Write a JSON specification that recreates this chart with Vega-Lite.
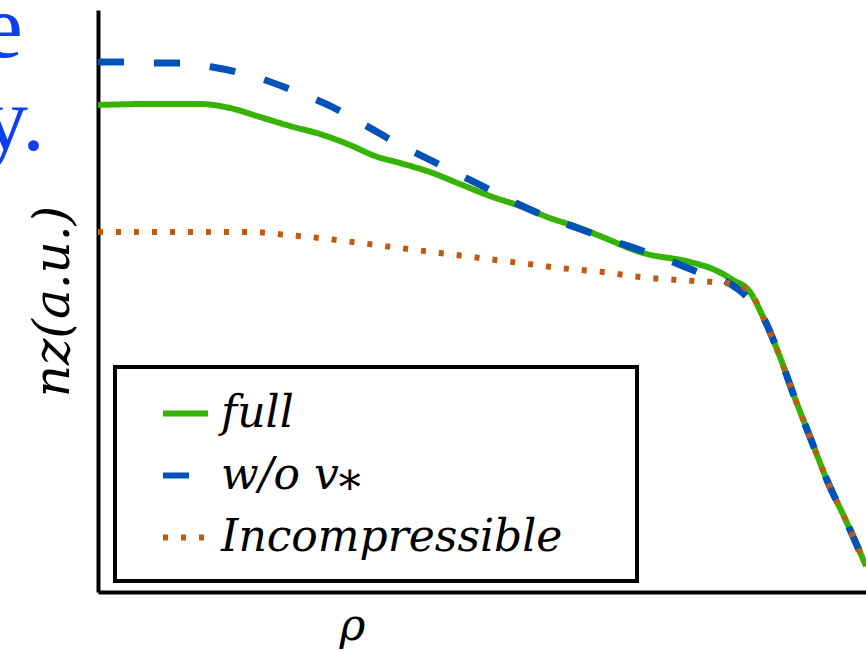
{
  "$schema": "https://vega.github.io/schema/vega-lite/v6.json",
  "width": 768,
  "height": 582,
  "autosize": {"type": "none"},
  "padding": {"left": 98, "top": 10, "right": 0, "bottom": 59},
  "background": "white",
  "config": {
    "view": {"stroke": null}
  },
  "title": {
    "text": ["e", "y."],
    "frame": "group",
    "anchor": "start",
    "align": "left",
    "baseline": "alphabetic",
    "font": "Liberation Serif",
    "fontSize": 92,
    "fontWeight": "normal",
    "color": "#0d3ff0",
    "lineHeight": 93,
    "offset": 0,
    "dx": -116,
    "dy": 232
  },
  "data": {
    "values": [
      {"series": "full", "rho": 0, "nz": 0.8368},
      {"series": "full", "rho": 0.0677, "nz": 0.8385},
      {"series": "full", "rho": 0.1328, "nz": 0.8385},
      {"series": "full", "rho": 0.1719, "nz": 0.8316},
      {"series": "full", "rho": 0.2109, "nz": 0.8162},
      {"series": "full", "rho": 0.25, "nz": 0.8007},
      {"series": "full", "rho": 0.2891, "nz": 0.7869},
      {"series": "full", "rho": 0.3281, "nz": 0.768},
      {"series": "full", "rho": 0.3607, "nz": 0.7491},
      {"series": "full", "rho": 0.3932, "nz": 0.7371},
      {"series": "full", "rho": 0.4323, "nz": 0.7216},
      {"series": "full", "rho": 0.4714, "nz": 0.701},
      {"series": "full", "rho": 0.5104, "nz": 0.6804},
      {"series": "full", "rho": 0.5495, "nz": 0.6632},
      {"series": "full", "rho": 0.5885, "nz": 0.6426},
      {"series": "full", "rho": 0.6276, "nz": 0.6254},
      {"series": "full", "rho": 0.6536, "nz": 0.6117},
      {"series": "full", "rho": 0.7096, "nz": 0.5825},
      {"series": "full", "rho": 0.7708, "nz": 0.567},
      {"series": "full", "rho": 0.8034, "nz": 0.5533},
      {"series": "full", "rho": 0.8268, "nz": 0.5361},
      {"series": "full", "rho": 0.849, "nz": 0.5155},
      {"series": "full", "rho": 0.8659, "nz": 0.4725},
      {"series": "full", "rho": 0.888, "nz": 0.4038},
      {"series": "full", "rho": 0.9049, "nz": 0.3419},
      {"series": "full", "rho": 0.9271, "nz": 0.2663},
      {"series": "full", "rho": 0.9492, "nz": 0.1924},
      {"series": "full", "rho": 0.9753, "nz": 0.1186},
      {"series": "full", "rho": 1.0, "nz": 0.0447},
      {"series": "w/o v⁎", "rho": 0, "nz": 0.9107},
      {"series": "w/o v⁎", "rho": 0.0378, "nz": 0.9107},
      {"series": "w/o v⁎", "rho": 0.0768, "nz": 0.9089},
      {"series": "w/o v⁎", "rho": 0.1094, "nz": 0.9089},
      {"series": "w/o v⁎", "rho": 0.1484, "nz": 0.9021},
      {"series": "w/o v⁎", "rho": 0.181, "nz": 0.8935},
      {"series": "w/o v⁎", "rho": 0.2174, "nz": 0.8797},
      {"series": "w/o v⁎", "rho": 0.2526, "nz": 0.8625},
      {"series": "w/o v⁎", "rho": 0.3021, "nz": 0.8351},
      {"series": "w/o v⁎", "rho": 0.3477, "nz": 0.8024},
      {"series": "w/o v⁎", "rho": 0.3932, "nz": 0.768},
      {"series": "w/o v⁎", "rho": 0.4323, "nz": 0.7423},
      {"series": "w/o v⁎", "rho": 0.4714, "nz": 0.7165},
      {"series": "w/o v⁎", "rho": 0.5104, "nz": 0.6907},
      {"series": "w/o v⁎", "rho": 0.5495, "nz": 0.6649},
      {"series": "w/o v⁎", "rho": 0.5885, "nz": 0.6426},
      {"series": "w/o v⁎", "rho": 0.6276, "nz": 0.6237},
      {"series": "w/o v⁎", "rho": 0.6667, "nz": 0.6048},
      {"series": "w/o v⁎", "rho": 0.7057, "nz": 0.5876},
      {"series": "w/o v⁎", "rho": 0.7487, "nz": 0.567},
      {"series": "w/o v⁎", "rho": 0.7813, "nz": 0.5498},
      {"series": "w/o v⁎", "rho": 0.819, "nz": 0.5326},
      {"series": "w/o v⁎", "rho": 0.8451, "nz": 0.5069},
      {"series": "w/o v⁎", "rho": 0.8659, "nz": 0.4725},
      {"series": "w/o v⁎", "rho": 0.888, "nz": 0.4038},
      {"series": "w/o v⁎", "rho": 0.9049, "nz": 0.3419},
      {"series": "w/o v⁎", "rho": 0.9271, "nz": 0.2663},
      {"series": "w/o v⁎", "rho": 0.9492, "nz": 0.1924},
      {"series": "w/o v⁎", "rho": 0.9753, "nz": 0.1186},
      {"series": "w/o v⁎", "rho": 1.0, "nz": 0.0447},
      {"series": "Incompressible", "rho": 0, "nz": 0.6186},
      {"series": "Incompressible", "rho": 0.0677, "nz": 0.6186},
      {"series": "Incompressible", "rho": 0.1328, "nz": 0.6186},
      {"series": "Incompressible", "rho": 0.1979, "nz": 0.6186},
      {"series": "Incompressible", "rho": 0.2461, "nz": 0.6134},
      {"series": "Incompressible", "rho": 0.2891, "nz": 0.6082},
      {"series": "Incompressible", "rho": 0.3411, "nz": 0.5997},
      {"series": "Incompressible", "rho": 0.3932, "nz": 0.5911},
      {"series": "Incompressible", "rho": 0.4453, "nz": 0.5825},
      {"series": "Incompressible", "rho": 0.4974, "nz": 0.5739},
      {"series": "Incompressible", "rho": 0.5495, "nz": 0.5653},
      {"series": "Incompressible", "rho": 0.6016, "nz": 0.5567},
      {"series": "Incompressible", "rho": 0.6576, "nz": 0.5498},
      {"series": "Incompressible", "rho": 0.7057, "nz": 0.5412},
      {"series": "Incompressible", "rho": 0.7539, "nz": 0.5361},
      {"series": "Incompressible", "rho": 0.8008, "nz": 0.5326},
      {"series": "Incompressible", "rho": 0.8268, "nz": 0.5292},
      {"series": "Incompressible", "rho": 0.849, "nz": 0.5155},
      {"series": "Incompressible", "rho": 0.8659, "nz": 0.4725},
      {"series": "Incompressible", "rho": 0.888, "nz": 0.4038},
      {"series": "Incompressible", "rho": 0.9049, "nz": 0.3419},
      {"series": "Incompressible", "rho": 0.9271, "nz": 0.2663},
      {"series": "Incompressible", "rho": 0.9492, "nz": 0.1924},
      {"series": "Incompressible", "rho": 0.9753, "nz": 0.1186},
      {"series": "Incompressible", "rho": 1.0, "nz": 0.0447}
    ]
  },
  "encoding": {
    "x": {
      "field": "rho", "type": "quantitative",
      "scale": {"domain": [0, 1], "nice": false, "zero": false},
      "axis": {
        "title": "ρ", "titleFont": "DejaVu Serif", "titleFontStyle": "oblique", "titleFontWeight": "normal",
        "titleFontSize": 44, "titleColor": "black", "titleX": 254, "titleY": 47, "titleBaseline": "alphabetic", "titleAlign": "center",
        "domain": true, "domainColor": "black", "domainWidth": 4, "ticks": false, "labels": false, "grid": false
      }
    },
    "y": {
      "field": "nz", "type": "quantitative",
      "scale": {"domain": [0, 1], "nice": false, "zero": false},
      "axis": {
        "title": "nz(a.u.)", "titleFont": "DejaVu Serif", "titleFontStyle": "oblique", "titleFontWeight": "normal",
        "titleFontSize": 50, "titleColor": "black", "titlePadding": 20,
        "domain": true, "domainColor": "black", "domainWidth": 4, "ticks": false, "labels": false, "grid": false
      }
    },
    "color": {
      "field": "series", "type": "nominal",
      "scale": {"domain": ["full", "w/o v⁎", "Incompressible"], "range": ["#36b300", "#0052b8", "#c05a10"]},
      "legend": {
        "orient": "none", "legendX": 17, "legendY": 357,
        "title": "\u00a0", "titleOrient": "right", "titlePadding": 54, "titleFontSize": 10,
        "strokeColor": "black", "padding": 21, "fillColor": "white",
        "labelFont": "DejaVu Serif", "labelFontStyle": "oblique", "labelFontSize": 44, "labelColor": "black",
        "labelLimit": 800, "labelOffset": 10,
        "symbolType": "stroke", "symbolSize": 2025, "symbolStrokeWidth": 6, "symbolOffset": 24,
        "rowPadding": 14,
        "encode": {"legend": {"update": {"strokeWidth": {"value": 4}}}}
      }
    },
    "strokeDash": {
      "field": "series", "type": "nominal",
      "scale": {"domain": ["full", "w/o v⁎", "Incompressible"], "range": [[1, 0], [26, 30], [5, 13]]},
      "legend": {
        "orient": "none", "legendX": 17, "legendY": 357,
        "title": "\u00a0", "titleOrient": "right", "titlePadding": 54, "titleFontSize": 10,
        "strokeColor": "black", "padding": 21, "fillColor": "white",
        "labelFont": "DejaVu Serif", "labelFontStyle": "oblique", "labelFontSize": 44, "labelColor": "black",
        "labelLimit": 800, "labelOffset": 10,
        "symbolType": "stroke", "symbolSize": 2025, "symbolStrokeWidth": 6, "symbolOffset": 24,
        "rowPadding": 14,
        "encode": {"legend": {"update": {"strokeWidth": {"value": 4}}}}
      }
    }
  },
  "layer": [
    {
      "transform": [{"filter": "datum.series === 'full'"}],
      "mark": {"type": "line", "strokeWidth": 6, "interpolate": "monotone", "clip": true, "strokeCap": "butt"}
    },
    {
      "transform": [{"filter": "datum.series === 'w/o v⁎'"}],
      "mark": {"type": "line", "strokeWidth": 7, "interpolate": "monotone", "clip": true, "strokeCap": "butt"}
    },
    {
      "transform": [{"filter": "datum.series === 'Incompressible'"}],
      "mark": {"type": "line", "strokeWidth": 6, "interpolate": "monotone", "clip": true, "strokeCap": "butt"}
    },
    {
      "data": {"values": [{"edge": "top"}]},
      "mark": {"type": "rule", "color": "black", "strokeWidth": 4},
      "encoding": {"y": {"datum": 1}, "x": null, "color": null, "strokeDash": null}
    }
  ]
}
